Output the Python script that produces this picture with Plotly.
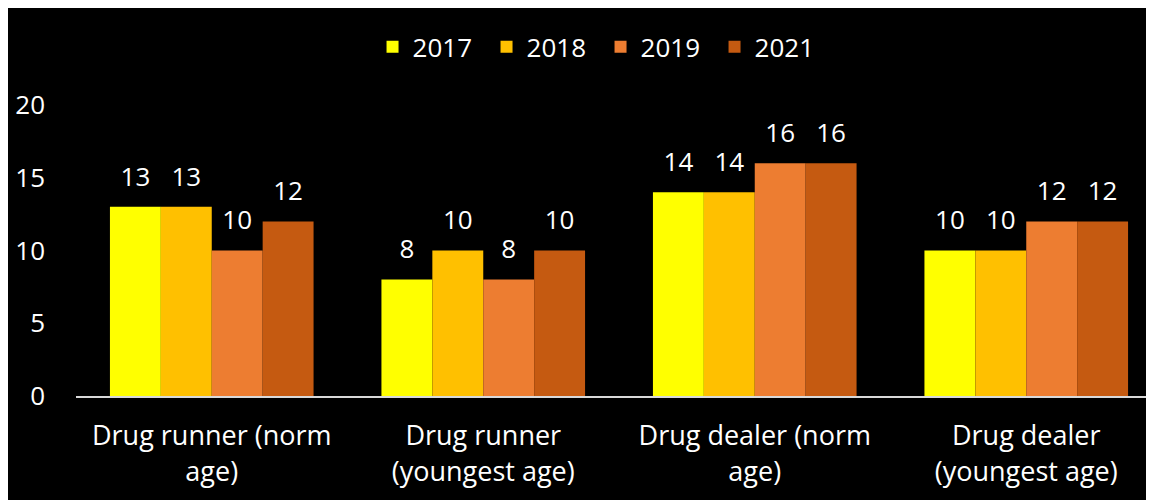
import plotly.graph_objects as go

categories = ["Drug runner (norm<br>age)", "Drug runner<br>(youngest age)",
              "Drug dealer (norm<br>age)", "Drug dealer<br>(youngest age)"]
years = ["2017", "2018", "2019", "2021"]
vals_2017 = [13, 8, 14, 10]
vals_2018 = [13, 10, 14, 10]
vals_2019 = [10, 8, 16, 12]
vals_2021 = [12, 10, 16, 12]
colors = ["#FFFF00", "#FFC000", "#ED7D31", "#C55A11"]

series = [vals_2017, vals_2018, vals_2019, vals_2021]
font = "Open Sans"
fs = 26

fig = go.Figure()
for name, vals, col in zip(years, series, colors):
    fig.add_trace(go.Bar(
        x=categories, y=vals, name=name, marker_color=col,
        marker_line_width=0,
    ))
# value labels, grouped the same way as the bars so they sit above each one
for name, vals in zip(years, series):
    fig.add_trace(go.Scatter(
        x=categories, y=vals, mode="markers+text", showlegend=False,
        text=vals, textposition="top center", cliponaxis=False,
        marker=dict(size=22, color="rgba(0,0,0,0)"),
        textfont=dict(color="white", size=fs, family=font),
        hoverinfo="skip",
    ))

fig.update_layout(
    width=1154, height=500,
    margin=dict(l=68, r=0, t=97, b=112),
    paper_bgcolor="black", plot_bgcolor="black",
    barmode="group", bargap=0.25, bargroupgap=0,
    scattermode="group", scattergap=0.25,
    font=dict(family=font, color="white", size=fs),
    showlegend=True,
    legend=dict(orientation="h", x=0.483, y=1.2, xanchor="center", yanchor="middle",
                font=dict(size=fs, color="white", family=font),
                bgcolor="rgba(0,0,0,0)", entrywidth=69, entrywidthmode="pixels"),
    xaxis=dict(showline=True, linecolor="#D9D9D9", linewidth=2, showgrid=False,
               tickfont=dict(size=27, color="white", family=font), ticks="",
               ticklabelstandoff=15),
    yaxis=dict(range=[0, 20], dtick=5, showgrid=False, zeroline=False, showline=False,
               tickfont=dict(size=fs, color="white", family=font),
               ticklabelstandoff=30),
)

fig.write_html("out.html")
